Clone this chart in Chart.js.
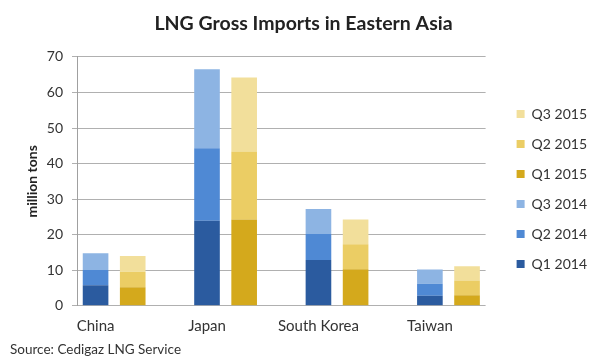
<!DOCTYPE html>
<html>
<head>
<meta charset="utf-8">
<script src="https://cdn.jsdelivr.net/npm/chart.js@4/dist/chart.umd.min.js"></script>
<style>
  html, body { margin: 0; padding: 0; background: #ffffff; }
  #wrap { width: 600px; height: 359px; position: relative; }
</style>
</head>
<body>
<div id="wrap"><canvas id="c" width="600" height="359"></canvas></div>
<script>
// ---- Data (million tons per quarter) ----
const categories = ['China', 'Japan', 'South Korea', 'Taiwan'];
const q1_2014 = [5.8, 23.9, 12.9, 2.8];
const q2_2014 = [4.3, 20.4, 7.3, 3.4];
const q3_2014 = [4.7, 22.2, 7.0, 4.0];
const q1_2015 = [5.2, 24.3, 10.3, 3.0];
const q2_2015 = [4.4, 19.1, 7.0, 4.1];
const q3_2015 = [4.4, 20.8, 7.0, 4.0];
const yTickValues = [0, 10, 20, 30, 40, 50, 60, 70];

// Each category gets a 2014 slot, a 2015 slot and a blank spacer slot
const slotLabels = [];
categories.forEach((c, i) => {
  slotLabels.push(c, '');
  if (i < categories.length - 1) slotLabels.push('');
});
function slots(values, yearOffset) {
  const out = new Array(slotLabels.length).fill(null);
  values.forEach((v, i) => { out[i * 3 + yearOffset] = v; });
  return out;
}

const FONT = 'Lato, "Open Sans", sans-serif';
const series = [
  { label: 'Q1 2014', values: q1_2014, year: 0, color: '#2b5b9f' },
  { label: 'Q2 2014', values: q2_2014, year: 0, color: '#4f89d4' },
  { label: 'Q3 2014', values: q3_2014, year: 0, color: '#8db4e3' },
  { label: 'Q1 2015', values: q1_2015, year: 1, color: '#d4a91c' },
  { label: 'Q2 2015', values: q2_2015, year: 1, color: '#ebcd64' },
  { label: 'Q3 2015', values: q3_2015, year: 1, color: '#f2df9b' }
];

new Chart(document.getElementById('c'), {
  type: 'bar',
  data: {
    labels: slotLabels,
    datasets: series.map(s => ({
      label: s.label,
      data: slots(s.values, s.year),
      backgroundColor: s.color,
      borderWidth: 0,
      stack: 'all',
      categoryPercentage: 1,
      barPercentage: 0.69
    }))
  },
  options: {
    responsive: false,
    animation: false,
    devicePixelRatio: 1,
    layout: { padding: { left: 10, right: 3, top: 0, bottom: 1 } },
    plugins: {
      title: {
        display: true,
        text: 'LNG Gross Imports in Eastern Asia',
        color: '#222',
        font: { family: FONT, size: 19.5, weight: 'bold' },
        padding: { top: 12, bottom: 21.5 }
      },
      subtitle: {
        display: true,
        position: 'bottom',
        align: 'start',
        text: 'Source: Cedigaz LNG Service',
        color: '#333',
        font: { family: FONT, size: 13.5 },
        padding: { top: 6, bottom: 0 }
      },
      legend: {
        position: 'right',
        reverse: true,
        title: { display: true, text: ' ', font: { size: 1, lineHeight: 1 }, padding: { top: 9.5, bottom: 9.5 } },
        labels: {
          boxWidth: 8,
          boxHeight: 8,
          padding: 16,
          color: '#333',
          font: { family: FONT, size: 14 }
        }
      },
      tooltip: { enabled: false }
    },
    scales: {
      x: {
        stacked: true,
        grid: { display: false, drawTicks: false, tickLength: 0 },
        border: { display: false },
        ticks: {
          autoSkip: false,
          maxRotation: 0,
          color: '#333',
          font: { family: FONT, size: 15 },
          padding: 11
        },
        afterFit: axis => { axis.height = 30; }
      },
      y: {
        stacked: true,
        min: 0,
        max: 70,
        afterBuildTicks: axis => { axis.ticks = yTickValues.map(v => ({ value: v })); },
        grid: { color: '#b0b0b0', lineWidth: 1, tickLength: 5 },
        border: { display: true, color: '#a0a0a0' },
        ticks: {
          color: '#333',
          font: { family: FONT, size: 14 },
          padding: 9
        },
        title: {
          display: true,
          text: 'million tons',
          color: '#222',
          font: { family: FONT, size: 14, weight: 'bold' },
          padding: { top: 14, bottom: 6 }
        },
        afterFit: axis => { axis.width = 67; }
      },
      gap: {
        type: 'linear',
        position: 'right',
        display: true,
        grid: { display: false },
        border: { display: false },
        ticks: { display: false },
        afterFit: axis => { axis.width = 15; }
      }
    }
  }
});
</script>
</body>
</html>
